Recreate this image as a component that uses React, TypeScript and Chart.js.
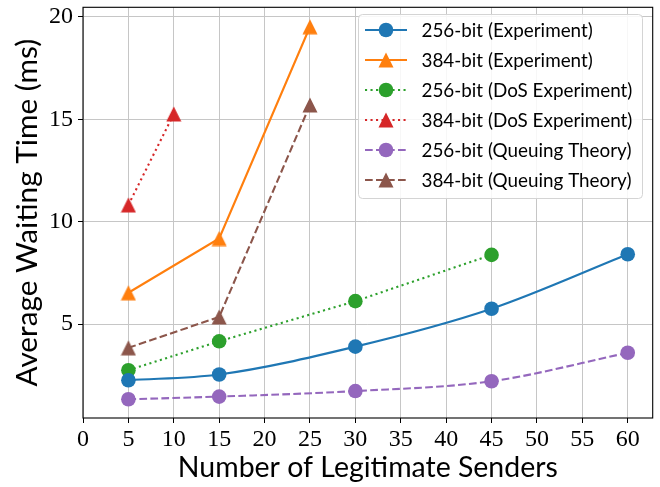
import React, { useEffect, useRef } from "react";
import { Chart, registerables } from "chart.js";

Chart.register(...registerables);

// ---- data ----
const sendersExp256 = [5, 15, 30, 45, 60];
const exp256 = [2.26, 2.54, 3.9, 5.75, 8.41];
const sendersExp384 = [5, 15, 25];
const exp384 = [6.53, 9.18, 19.52];
const sendersDos256 = [5, 15, 30, 45];
const dos256 = [2.75, 4.16, 6.12, 8.38];
const sendersDos384 = [5, 10];
const dos384 = [10.82, 15.26];
const sendersQ256 = [5, 15, 30, 45, 60];
const queue256 = [1.33, 1.46, 1.73, 2.21, 3.6];
const sendersQ384 = [5, 15, 25];
const queue384 = [3.84, 5.35, 15.7];

const xTicks = [0, 5, 10, 15, 20, 25, 30, 35, 40, 45, 50, 55, 60];
const yTicks = [5, 10, 15, 20];

const seriesLabels = [
  "256-bit (Experiment)",
  "384-bit (Experiment)",
  "256-bit (DoS Experiment)",
  "384-bit (DoS Experiment)",
  "256-bit (Queuing Theory)",
  "384-bit (Queuing Theory)",
];
const xTitle = "Number of Legitimate Senders";
const yTitle = "Average Waiting Time (ms)";

const COLORS = ["#1f77b4", "#ff7f0e", "#2ca02c", "#d62728", "#9467bd", "#8c564b"];
const DOT = [2.1, 3.4];
const DASH = [7.7, 3.3];

const SANS = "Lato, 'Open Sans', 'DejaVu Sans', sans-serif";
const SERIF = "'Liberation Serif', 'DejaVu Serif', serif";

function makeTriangle(color: string): HTMLCanvasElement {
  const c = document.createElement("canvas");
  c.width = 16;
  c.height = 16;
  const g = c.getContext("2d")!;
  g.fillStyle = color;
  g.beginPath();
  g.moveTo(8, 0.5);
  g.lineTo(15.5, 15.5);
  g.lineTo(0.5, 15.5);
  g.closePath();
  g.fill();
  return c;
}

function pts(xs: number[], ys: number[]) {
  return xs.map((x, i) => ({ x, y: ys[i] }));
}

function fitFont(ctx: CanvasRenderingContext2D, text: string, family: string, target: number) {
  ctx.font = `100px ${family}`;
  const w = ctx.measureText(text).width;
  return (100 * target) / w;
}

export default function App() {
  const ref = useRef<HTMLCanvasElement | null>(null);

  useEffect(() => {
    document.body.style.margin = "0";
    const canvas = ref.current!;
    const tris = COLORS.map((c) => makeTriangle(c));
    const styles: any[] = ["circle", tris[1], "circle", tris[3], "circle", tris[5]];
    const dashes = [[], [], DOT, DOT, DASH, DASH];

    const mk = (i: number, data: any[], smooth: boolean) => ({
      label: seriesLabels[i],
      data,
      borderColor: COLORS[i],
      backgroundColor: COLORS[i],
      borderWidth: 2.1,
      borderDash: dashes[i],
      borderCapStyle: "butt" as const,
      pointStyle: styles[i],
      pointRadius: 7.3,
      pointBorderWidth: 0,
      pointBackgroundColor: COLORS[i],
      cubicInterpolationMode: smooth ? ("monotone" as const) : ("default" as const),
      tension: 0,
      fill: false,
    });

    const datasets = [
      mk(0, pts(sendersExp256, exp256), true),
      mk(1, pts(sendersExp384, exp384), false),
      mk(2, pts(sendersDos256, dos256), false),
      mk(3, pts(sendersDos384, dos384), false),
      mk(4, pts(sendersQ256, queue256), true),
      mk(5, pts(sendersQ384, queue384), false),
    ];

    const overlay = {
      id: "overlay",
      afterDraw(chart: any) {
        const ctx = chart.ctx as CanvasRenderingContext2D;
        const a = chart.chartArea;
        ctx.save();
        // frame
        ctx.strokeStyle = "#000";
        ctx.lineWidth = 1.1;
        ctx.setLineDash([]);
        ctx.strokeRect(a.left, a.top, a.right - a.left, a.bottom - a.top);

        // legend
        const lx = 358, ly = 14, lw = 284, lh = 184;
        ctx.beginPath();
        (ctx as any).roundRect(lx + 0.5, ly + 0.5, lw, lh, 4);
        ctx.fillStyle = "rgba(255,255,255,0.85)";
        ctx.fill();
        ctx.strokeStyle = "#d4d4d4";
        ctx.lineWidth = 1;
        ctx.stroke();
        const lfs = fitFont(ctx, seriesLabels[2], SANS, 211);
        for (let i = 0; i < 6; i++) {
          const cy = 30 + i * 30;
          ctx.strokeStyle = COLORS[i];
          ctx.lineWidth = 2.1;
          ctx.setLineDash(dashes[i] as number[]);
          ctx.beginPath();
          ctx.moveTo(365, cy);
          ctx.lineTo(407, cy);
          ctx.stroke();
          ctx.setLineDash([]);
          if (i % 2 === 0) {
            ctx.fillStyle = COLORS[i];
            ctx.beginPath();
            ctx.arc(386, cy, 7.3, 0, Math.PI * 2);
            ctx.fill();
          } else {
            ctx.drawImage(tris[i], 386 - 8, cy - 8);
          }
          ctx.fillStyle = "#000";
          ctx.font = `${lfs}px ${SANS}`;
          ctx.textAlign = "left";
          ctx.textBaseline = "alphabetic";
          ctx.fillText(seriesLabels[i], 421.5, cy + 6.7);
        }

        // axis titles
        ctx.fillStyle = "#000";
        const xfs = fitFont(ctx, xTitle, SANS, 380);
        ctx.font = `${xfs}px ${SANS}`;
        ctx.textAlign = "center";
        ctx.textBaseline = "alphabetic";
        ctx.fillText(xTitle, (a.left + a.right) / 2, 476.5);

        const yfs = fitFont(ctx, yTitle, SANS, 348);
        ctx.font = `${yfs}px ${SANS}`;
        ctx.translate(37, (a.top + a.bottom) / 2);
        ctx.rotate(-Math.PI / 2);
        ctx.fillText(yTitle, 0, 0);
        ctx.restore();
      },
    };

    const gridOpts = {
      color: "#c6c6c6",
      lineWidth: 1,
      drawTicks: true,
      tickLength: 5,
      tickColor: "#000",
      tickWidth: 1,
    };

    const chart = new Chart(canvas, {
      type: "line",
      data: { datasets },
      options: {
        animation: false,
        responsive: false,
        devicePixelRatio: 1,
        layout: { padding: { left: 0, top: 3, right: 7, bottom: 0 } },
        plugins: { legend: { display: false }, tooltip: { enabled: false } },
        scales: {
          x: {
            type: "linear",
            min: 0,
            max: 62.75,
            afterBuildTicks: (s: any) => {
              s.ticks = xTicks.map((v) => ({ value: v }));
            },
            afterFit: (s: any) => {
              s.height = 69;
              s.paddingLeft = 0;
              s.paddingRight = 0;
            },
            border: { display: false },
            grid: gridOpts,
            ticks: {
              color: "#000",
              font: { family: SERIF, size: 24 },
              padding: 2,
              maxRotation: 0,
              autoSkip: false,
            },
          },
          y: {
            type: "linear",
            min: 0.415,
            max: 20.47,
            afterBuildTicks: (s: any) => {
              s.ticks = yTicks.map((v) => ({ value: v }));
            },
            afterFit: (s: any) => {
              s.width = 83;
              s.paddingTop = 0;
              s.paddingBottom = 0;
            },
            border: { display: false },
            grid: gridOpts,
            ticks: {
              color: "#000",
              font: { family: SERIF, size: 24 },
              padding: 5,
              autoSkip: false,
            },
          },
        },
      },
      plugins: [overlay],
    });
    return () => chart.destroy();
  }, []);

  return <canvas ref={ref} width={660} height={487} style={{ display: "block" }} />;
}
